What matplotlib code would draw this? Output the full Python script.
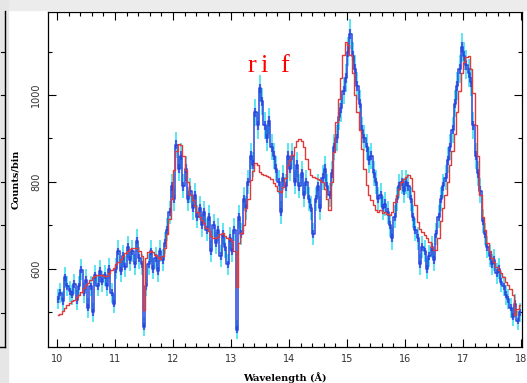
import numpy as np
import matplotlib
matplotlib.use("Agg")
import matplotlib.pyplot as plt
from matplotlib.ticker import MultipleLocator
from matplotlib.lines import Line2D
from matplotlib.patches import Rectangle

# bin centres, 0.04 A wide bins from 10 to 18 A
wave_start = 10.02
bin_width = 0.04

# observed counts per bin, one row per Angstrom
counts_10 = [530, 545, 525, 580, 560, 548, 540, 565, 528, 560, 598, 545, 575,
             510, 560, 500, 585, 560, 595, 570, 585, 560, 600, 545, 520]
counts_11 = [600, 640, 595, 630, 605, 650, 620, 640, 610, 665, 625, 610, 467,
             560, 610, 640, 600, 625, 595, 640, 620, 660, 690, 730, 790]
counts_12 = [760, 885, 830, 860, 790, 830, 760, 780, 740, 770, 720, 740, 700,
             730, 690, 720, 640, 700, 660, 690, 630, 680, 650, 610, 670]
counts_13 = [640, 690, 460, 720, 680, 760, 740, 800, 860, 840, 960, 930, 1015,
             985, 930, 900, 940, 880, 860, 830, 800, 730, 810, 790, 860]
counts_14 = [830, 860, 800, 840, 790, 820, 770, 800, 760, 740, 680, 760, 790,
             740, 810, 830, 790, 770, 820, 880, 900, 950, 970, 1010, 1040]
counts_15 = [1100, 1140, 1090, 1060, 1020, 980, 920, 900, 880, 850, 860, 820, 800,
             760, 770, 740, 750, 730, 700, 670, 720, 760, 790, 800, 780]
counts_16 = [800, 790, 760, 720, 690, 670, 610, 650, 640, 600, 630, 650, 620,
             680, 720, 760, 790, 810, 850, 880, 920, 980, 1020, 1060, 1110]
counts_17 = [1090, 1070, 1050, 1030, 930, 860, 820, 780, 710, 680, 650, 630, 610,
             620, 590, 600, 570, 560, 540, 530, 510, 490, 520, 480, 500]

# model counts per bin
model_10 = [494, 497, 503, 510, 516, 521, 525, 529, 534, 540, 546, 555, 563,
            568, 575, 580, 583, 585, 586, 585, 583, 583, 590, 598, 602]
model_11 = [610, 616, 622, 630, 637, 642, 645, 647, 648, 647, 640, 630, 506,
            625, 638, 640, 638, 632, 626, 622, 630, 648, 680, 715, 760]
model_12 = [828, 870, 888, 885, 860, 828, 800, 770, 759, 745, 730, 720, 712,
            705, 695, 686, 676, 672, 670, 673, 680, 683, 676, 670, 668]
model_13 = [665, 640, 558, 660, 683, 700, 740, 760, 805, 825, 844, 840, 823,
            818, 816, 814, 811, 806, 798, 790, 780, 777, 789, 810, 839]
model_14 = [850, 862, 880, 895, 899, 895, 880, 853, 830, 816, 812, 810, 807,
            805, 800, 784, 760, 735, 800, 869, 938, 990, 1040, 1092, 1122]
model_15 = [1115, 1092, 1050, 1000, 960, 920, 876, 830, 793, 770, 759, 747, 736,
            730, 735, 728, 730, 726, 724, 730, 754, 770, 784, 800, 807]
model_16 = [812, 816, 808, 780, 747, 708, 692, 685, 678, 670, 662, 650, 644,
            644, 670, 710, 740, 770, 800, 840, 870, 910, 960, 1010, 1050]
model_17 = [1075, 1088, 1090, 1060, 1005, 930, 860, 770, 720, 690, 660, 640, 625,
            615, 605, 598, 590, 580, 570, 562, 553, 540, 494, 508, 517]

line_labels = ["r", "i", "f"]
line_pos = [13.29, 13.50, 13.84]

counts = np.array(counts_10 + counts_11 + counts_12 + counts_13 +
                  counts_14 + counts_15 + counts_16 + counts_17, dtype=float)
model = np.array(model_10 + model_11 + model_12 + model_13 +
                 model_14 + model_15 + model_16 + model_17, dtype=float)
wave = wave_start + bin_width * np.arange(len(counts))
err = np.sqrt(counts)

fig = plt.figure(figsize=(5.27, 3.83), dpi=100, facecolor="white")

# slide background bits around the screenshot
fig.patches.append(Rectangle((0, 0.974), 1, 0.026, transform=fig.transFigure,
                             color="#ececec", zorder=0))
fig.patches.append(Rectangle((0, 0), 0.015, 1, transform=fig.transFigure,
                             color="#e6e6e6", zorder=0))
# edge of the neighbouring plot on the left
fig.lines.append(Line2D([0.010, 0.010], [0.094, 0.972], transform=fig.transFigure,
                        color="black", lw=1))
fig.lines.append(Line2D([0.0, 0.010], [0.094, 0.094], transform=fig.transFigure,
                        color="black", lw=1))
for yy in [52, 95, 138, 182, 225, 269, 313]:
    fig.lines.append(Line2D([0.002, 0.010], [1 - yy / 383, 1 - yy / 383],
                            transform=fig.transFigure, color="black", lw=0.8))

ax = fig.add_axes([0.0911, 0.094, 0.8994, 0.8747])
ax.errorbar(wave, counts, yerr=err, fmt="none", ecolor="#4ee4ef",
            elinewidth=1.3, capsize=0, zorder=2)
ax.errorbar(wave, counts, yerr=0.35 * err, fmt="none", ecolor="#3a62e6",
            elinewidth=1.6, capsize=0, zorder=3)
ax.step(wave, counts, where="mid", color="#2445dc", lw=1.1, zorder=4)
ax.step(wave, model, where="mid", color="#e03a3a", lw=1.0, zorder=5)

for lab, xp in zip(line_labels, line_pos):
    ax.text(xp, 1053, lab, color="red", fontsize=19, family="Liberation Serif",
            va="baseline", ha="left", zorder=6)

ax.set_xlim(9.845, 18.017)
ax.set_ylim(420, 1191)
ax.xaxis.set_major_locator(MultipleLocator(1))
ax.xaxis.set_minor_locator(MultipleLocator(0.2))
ax.yaxis.set_major_locator(MultipleLocator(200))
ax.yaxis.set_minor_locator(MultipleLocator(100))
ax.tick_params(which="both", direction="in", top=True, right=True,
               labelsize=7, labelcolor="#333333", width=0.8)
ax.tick_params(which="major", length=6, pad=5)
ax.tick_params(which="minor", length=3)
for lab in ax.get_yticklabels():
    lab.set_rotation(90)
    lab.set_va("center")
for sp in ax.spines.values():
    sp.set_linewidth(0.9)

ax.set_xlabel("Wavelength (Å)", family="DejaVu Serif", fontweight="bold",
              fontsize=7, labelpad=6)
ax.set_ylabel("Counts/bin", family="DejaVu Serif", fontweight="bold",
              fontsize=7, labelpad=8)

fig.savefig("out.png", dpi=100)
